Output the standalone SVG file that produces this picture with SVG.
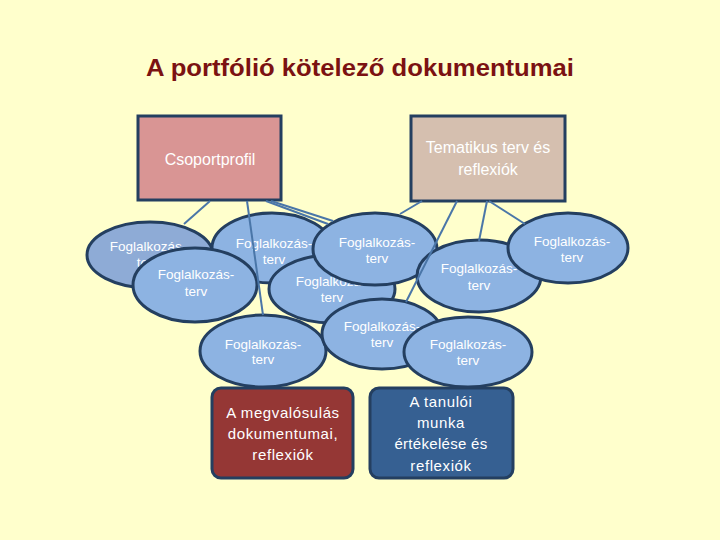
<svg xmlns="http://www.w3.org/2000/svg" width="720" height="540" viewBox="0 0 720 540">
<style>
.bg{fill:#FFFFCC}
.ell{fill:#8DB3E2;stroke:#243F60;stroke-width:3}
.et{font-family:"Liberation Sans",Arial,sans-serif;font-size:13.5px;fill:#FFFFFF;text-anchor:middle}
.bt{font-family:"Liberation Sans",Arial,sans-serif;font-size:15px;fill:#FFFFFF;text-anchor:middle}
.tt{font-family:"Liberation Sans",Arial,sans-serif;font-size:16px;fill:#FFFFFF;text-anchor:middle}
.con{stroke:#4A76A8;stroke-width:2;fill:none}
.box{stroke:#243F60;stroke-width:3}
</style>
<rect class="bg" x="0" y="0" width="720" height="540"/>
<text x="360" y="76" font-family="'Liberation Sans',Arial,sans-serif" font-size="23" font-weight="bold" fill="#7B1212" text-anchor="middle" textLength="428" lengthAdjust="spacingAndGlyphs">A portfólió kötelező dokumentumai</text>

<g id="csoportprofil">
<rect class="box" x="138" y="116" width="143" height="84" fill="#D99594"/>
<text class="tt" x="210" y="165">Csoportprofil</text>
</g>
<g id="tematikus">
<rect class="box" x="411" y="116" width="154" height="85" fill="#D5BFAF"/>
<text class="tt" x="488" y="153">Tematikus terv és</text>
<text class="tt" x="488" y="175">reflexiók</text>
</g>

<g id="e1"><ellipse class="ell" cx="150" cy="255" rx="63" ry="33" style="fill:#8EABD6"/>
<text class="et" x="148" y="251">Foglalkozás-</text><text class="et" x="148" y="267">terv</text></g>
<g id="e3"><ellipse class="ell" cx="272" cy="248" rx="60" ry="35"/>
<text class="et" x="274" y="248">Foglalkozás-</text><text class="et" x="274" y="264">terv</text></g>
<g id="e2"><ellipse class="ell" cx="195" cy="285" rx="62" ry="37"/>
<text class="et" x="196" y="279">Foglalkozás-</text><text class="et" x="196" y="296">terv</text></g>
<g id="e5"><ellipse class="ell" cx="332" cy="289" rx="63" ry="34"/>
<text class="et" x="334" y="286">Foglalkozás-</text><text class="et" x="332" y="302">terv</text></g>
<g id="e4"><ellipse class="ell" cx="375" cy="249" rx="62" ry="36"/>
<text class="et" x="377" y="247">Foglalkozás-</text><text class="et" x="377" y="263">terv</text></g>
<g id="e6"><ellipse class="ell" cx="479" cy="276" rx="62" ry="36"/>
<text class="et" x="479" y="273">Foglalkozás-</text><text class="et" x="479" y="290">terv</text></g>
<g id="e8"><ellipse class="ell" cx="568" cy="248" rx="60" ry="35"/>
<text class="et" x="572" y="246">Foglalkozás-</text><text class="et" x="572" y="262">terv</text></g>
<g id="e10"><ellipse class="ell" cx="263" cy="351" rx="63" ry="36"/>
<text class="et" x="263" y="349">Foglalkozás-</text><text class="et" x="263" y="364">terv</text></g>
<g id="e7"><ellipse class="ell" cx="382" cy="334" rx="60" ry="35"/>
<text class="et" x="382" y="331">Foglalkozás-</text><text class="et" x="382" y="347">terv</text></g>
<g id="e9"><ellipse class="ell" cx="468" cy="352" rx="64" ry="35"/>
<text class="et" x="468" y="349">Foglalkozás-</text><text class="et" x="468" y="365">terv</text></g>

<g id="connectors">
<line class="con" x1="210" y1="201" x2="184" y2="224"/>
<line class="con" x1="247" y1="201" x2="263" y2="315"/>
<line class="con" x1="266" y1="201" x2="328" y2="224"/>
<line class="con" x1="271" y1="201" x2="333" y2="221"/>
<line class="con" x1="422" y1="201" x2="400" y2="214"/>
<line class="con" x1="457" y1="201" x2="406" y2="302"/>
<line class="con" x1="487" y1="201" x2="479" y2="241"/>
<line class="con" x1="489" y1="201" x2="525" y2="224"/>
</g>

<g id="megvalosulas">
<rect class="box" x="212" y="388" width="141" height="90" rx="9" fill="#953735"/>
<text class="bt" x="283" y="418" letter-spacing="0.6">A megvalósulás</text>
<text class="bt" x="283" y="439" letter-spacing="0.6">dokumentumai,</text>
<text class="bt" x="283" y="460" letter-spacing="0.6">reflexiók</text>
</g>
<g id="tanuloi">
<rect class="box" x="370" y="388" width="143" height="90" rx="9" fill="#366092"/>
<text class="bt" x="441" y="407" letter-spacing="0.6">A tanulói</text>
<text class="bt" x="441" y="428" letter-spacing="0.6">munka</text>
<text class="bt" x="441" y="449" letter-spacing="0.3">értékelése és</text>
<text class="bt" x="441" y="471" letter-spacing="0.6">reflexiók</text>
</g>
</svg>
